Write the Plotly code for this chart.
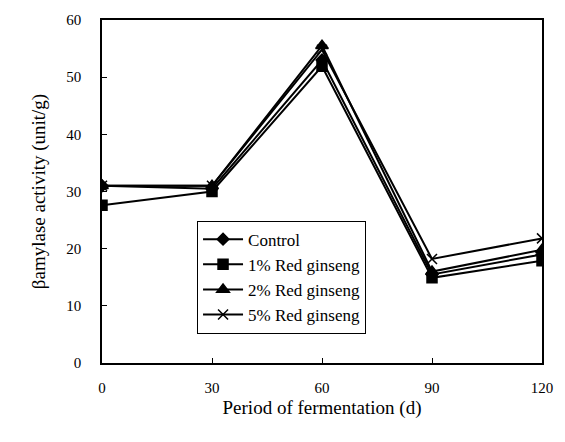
import plotly.graph_objects as go

days = [0, 30, 60, 90, 120]
control = [31.0, 30.5, 53.0, 15.5, 19.0]
rg1 = [27.6, 30.0, 51.9, 14.9, 17.9]
rg2 = [31.0, 31.0, 55.5, 16.0, 19.8]
rg5 = [31.0, 31.0, 54.8, 18.2, 21.8]

series = [
    ("Control", control, "diamond", 9),
    ("1% Red ginseng", rg1, "square", 10),
    ("2% Red ginseng", rg2, "triangle-up", 11),
    ("5% Red ginseng", rg5, "x-thin", 10),
]

fig = go.Figure()
for name, vals, sym, sz in series:
    fig.add_trace(go.Scatter(
        x=days, y=vals, name=name, mode="lines+markers",
        line=dict(color="black", width=2),
        marker=dict(symbol=sym, size=sz, color="black",
                    line=dict(color="black", width=1.5)),
    ))

font = "Liberation Serif, Times New Roman, serif"
fig.update_layout(
    width=565, height=442,
    margin=dict(l=102, r=23, t=15, b=79),
    paper_bgcolor="white", plot_bgcolor="white",
    font=dict(family=font, size=15, color="black"),
    showlegend=True,
    legend=dict(x=0.216, y=0.415, xanchor="left", yanchor="top",
                bordercolor="black", borderwidth=1, bgcolor="white",
                font=dict(family=font, size=17), tracegroupgap=0,
                itemwidth=40),
)
fig.update_xaxes(
    range=[0, 120], tickvals=[0, 30, 60, 90, 120],
    showline=True, linecolor="black", linewidth=1.5, mirror=True,
    ticks="inside", ticklen=5, tickcolor="black", showgrid=False, zeroline=False,
    ticklabelstandoff=10,
    title=dict(text="Period of fermentation (d)", font=dict(family=font, size=19), standoff=6),
)
fig.update_yaxes(
    range=[0, 60], tickvals=[0, 10, 20, 30, 40, 50, 60],
    showline=True, linecolor="black", linewidth=1.5, mirror=True,
    ticks="inside", ticklen=5, tickcolor="black", showgrid=False, zeroline=False,
    ticklabelstandoff=16,
    title=dict(text="βamylase activity (unit/g)", font=dict(family=font, size=19), standoff=16),
)
fig.write_html("out.html")
